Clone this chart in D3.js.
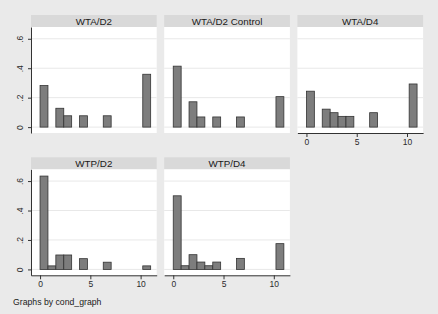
<!DOCTYPE html>
<html><head><meta charset="utf-8">
<script src="https://cdn.jsdelivr.net/npm/d3@7"></script>
<style>
html,body{margin:0;padding:0;background:#eaeaea;}
svg{display:block;font-family:"Liberation Sans",Arial,sans-serif;}
</style></head>
<body>
<script>
// ---- data ----
const panelTitles = ["WTA/D2", "WTA/D2 Control", "WTA/D4", "WTP/D2", "WTP/D4"];
const binEdges = [0, 0.786, 1.571, 2.357, 3.143, 3.929, 4.714, 5.5, 6.286, 7.071, 7.857, 8.643, 9.429, 10.214, 11];
const wtaD2        = [0.282, 0, 0.128, 0.077, 0, 0.077, 0, 0, 0.077, 0, 0, 0, 0, 0.359];
const wtaD2Control = [0.414, 0, 0.172, 0.069, 0, 0.069, 0, 0, 0.069, 0, 0, 0, 0, 0.207];
const wtaD4        = [0.244, 0, 0.122, 0.098, 0.073, 0.073, 0, 0, 0.098, 0, 0, 0, 0, 0.293];
const wtpD2        = [0.634, 0.024, 0.098, 0.098, 0, 0.073, 0, 0, 0.049, 0, 0, 0, 0, 0.024];
const wtpD4        = [0.500, 0.025, 0.100, 0.050, 0.025, 0.050, 0, 0, 0.075, 0, 0, 0, 0, 0.175];
const seriesList = [wtaD2, wtaD2Control, wtaD4, wtpD2, wtpD4];
const xTicks = [0, 5, 10];
const yTicks = [0, 0.2, 0.4, 0.6];
const yTickLabels = ["0", ".2", ".4", ".6"];
const noteText = "Graphs by cond_graph";

// ---- layout ----
const W = 438, H = 314;
const colX = [31, 164.2, 297.4];
const rowY = [27, 169.3];
const pw = 125.7, ph = 106, headerH = 12;
const layout = [
  {r:0,c:0,yAxis:true,xAxis:false},
  {r:0,c:1,yAxis:false,xAxis:false},
  {r:0,c:2,yAxis:false,xAxis:true},
  {r:1,c:0,yAxis:true,xAxis:true},
  {r:1,c:1,yAxis:false,xAxis:true}
];

const svg = d3.select("body").append("svg").attr("width", W).attr("height", H);
svg.append("rect").attr("width", W).attr("height", H).attr("fill", "#eaeaea");

const x = d3.scaleLinear().domain([-0.9, 11.6]).range([0, pw]);
const y = d3.scaleLinear().domain([-0.04, 0.68]).range([ph, 0]);

layout.forEach((L, i) => {
  const g = svg.append("g").attr("transform", `translate(${colX[L.c]},${rowY[L.r]})`);
  // header strip
  g.append("rect").attr("x", 0).attr("y", -headerH).attr("width", pw).attr("height", headerH).attr("fill", "#d9d9d9");
  g.append("text").attr("x", pw/2).attr("y", -headerH/2 + 0.3).attr("dy", "0.35em")
    .attr("text-anchor", "middle").attr("font-size", 9.8).attr("fill", "#1a1a1a").text(panelTitles[i]);
  // plot region
  g.append("rect").attr("width", pw).attr("height", ph).attr("fill", "#ffffff");
  // grid
  g.selectAll("line.grid").data(yTicks).join("line").attr("class","grid")
    .attr("x1", 0).attr("x2", pw).attr("y1", d => y(d)).attr("y2", d => y(d))
    .attr("stroke", "#e8e8e8").attr("stroke-width", 1);
  // bars
  const data = seriesList[i].map((v, k) => ({v, x0: binEdges[k], x1: binEdges[k+1]})).filter(d => d.v > 0);
  g.selectAll("rect.bar").data(data).join("rect").attr("class","bar")
    .attr("x", d => x(d.x0)).attr("width", d => x(d.x1) - x(d.x0))
    .attr("y", d => y(d.v)).attr("height", d => y(0) - y(d.v))
    .attr("fill", "#7d7d7d").attr("stroke", "#333333").attr("stroke-width", 0.8);
  // y axis
  if (L.yAxis) {
    const ya = g.append("g").call(d3.axisLeft(y).tickValues(yTicks).tickSize(3).tickSizeOuter(0)
      .tickFormat((d, k) => yTickLabels[k]));
    ya.select(".domain").attr("stroke", "#333");
    ya.selectAll(".tick line").attr("stroke", "#333");
    ya.selectAll(".tick text").attr("font-size", 8.5).attr("fill", "#2a2a2a")
      .attr("font-family", "Liberation Sans, Arial, sans-serif")
      .attr("x", null).attr("dy", null)
      .attr("text-anchor", "middle")
      .attr("transform", "translate(-8,0) rotate(-90)")
      .attr("y", 0);
  }
  if (L.xAxis) {
    const xa = g.append("g").attr("transform", `translate(0,${ph})`)
      .call(d3.axisBottom(x).tickValues(xTicks).tickSize(4).tickSizeOuter(0).tickPadding(2));
    xa.select(".domain").attr("stroke", "#333");
    xa.selectAll(".tick line").attr("stroke", "#333");
    xa.selectAll(".tick text").attr("font-size", 8.5).attr("fill", "#2a2a2a")
      .attr("font-family", "Liberation Sans, Arial, sans-serif");
  }
});

svg.append("text").attr("x", 13).attr("y", 301.5).attr("dy", "0.35em")
  .attr("font-size", 8.7).attr("fill", "#1a1a1a").text(noteText);
</script>
</body></html>
